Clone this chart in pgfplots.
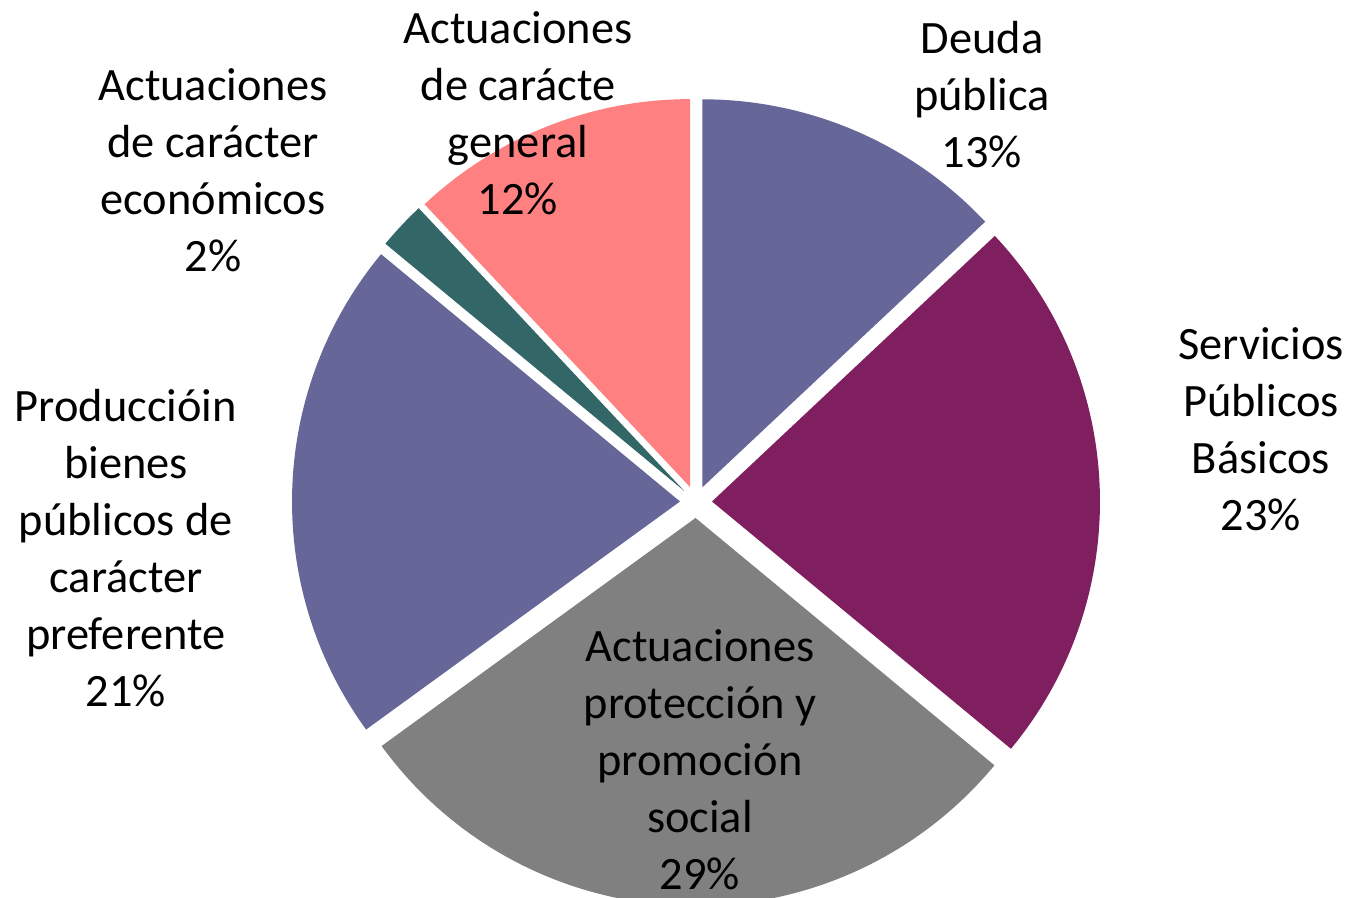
\documentclass[border=0pt]{standalone}
\usepackage{fontspec}
\setmainfont{Carlito}
\usepackage{pgfplots}
\pgfplotsset{compat=1.18}

\definecolor{azul}{HTML}{666699}
\definecolor{granate}{HTML}{7F1F5F}
\definecolor{gris}{HTML}{808080}
\definecolor{verde}{HTML}{336666}
\definecolor{rosa}{HTML}{FF8080}

\tikzset{etiqueta/.style={font={\fontsize{23.2bp}{28.5bp}\selectfont}, align=center, text=black, inner sep=0pt}}

% pie geometry in pixel units of the axis (1 unit = 0.5bp)
\def\cx{696}\def\cy{396}
\def\expl{16}
\def\radio{194bp}
\gdef\acum{0}

% \porcion{percent}{colour}: one slice, clockwise from 12 o'clock
\newcommand\porcion[2]{%
  \pgfmathsetmacro\sa{90-3.6*\acum}%
  \pgfmathsetmacro\ea{90-3.6*(\acum+#1)}%
  \pgfmathsetmacro\ma{(\sa+\ea)/2}%
  \pgfmathsetmacro\px{\cx+\expl*cos(\ma)}%
  \pgfmathsetmacro\py{\cy+\expl*sin(\ma)}%
  \edef\tmp{\noexpand\fill[#2] (axis cs:\px,\py) -- ++(\sa:\radio)
    arc[start angle=\sa, end angle=\ea, radius=\radio] -- cycle;}%
  \tmp
  \pgfmathsetmacro\nuevo{\acum+#1}%
  \xdef\acum{\nuevo}%
}

\begin{document}
\begin{tikzpicture}
\begin{axis}[
  scale only axis,
  width=675bp, height=449bp,
  xmin=0, xmax=1350, ymin=0, ymax=898,
  hide axis,
]
  \porcion{13}{azul}
  \porcion{23}{granate}
  \porcion{29}{gris}
  \porcion{21}{azul}
  \porcion{2}{verde}
  \porcion{12}{rosa}

  \node[etiqueta] at (axis cs:982,803) {Deuda\\pública\\13\%};
  \node[etiqueta] at (axis cs:1261,469) {Servicios\\Públicos\\Básicos\\23\%};
  \node[etiqueta] at (axis cs:700,138) {Actuaciones\\protección y\\promoción\\social\\29\%};
  \node[etiqueta] at (axis cs:126,350) {Produccióin\\bienes\\públicos de\\carácter\\preferente\\21\%};
  \node[etiqueta] at (axis cs:213,728) {Actuaciones\\de carácter\\económicos\\2\%};
  \node[etiqueta] at (axis cs:518,785) {Actuaciones\\de carácte\\general\\12\%};
\end{axis}
\pgfresetboundingbox
\path (0,0) rectangle (675bp,449bp);
\end{tikzpicture}
\end{document}
